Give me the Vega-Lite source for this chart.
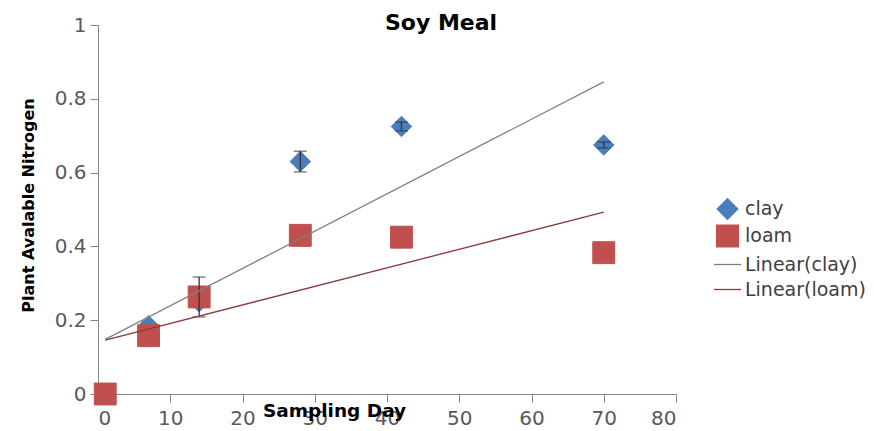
{
  "$schema": "https://vega.github.io/schema/vega-lite/v6.json",
  "width": 578,
  "height": 369,
  "autosize": "none",
  "padding": {"left": 98, "top": 25, "right": 198, "bottom": 37},
  "background": "white",
  "config": {
    "font": "DejaVu Sans",
    "view": {"stroke": null},
    "axis": {"grid": false},
    "legend": {
      "orient": "none",
      "legendX": 615,
      "legendY": 173,
      "labelFont": "DejaVu Sans",
      "labelFontSize": 19,
      "labelColor": "#404040",
      "labelOffset": 3,
      "rowPadding": 0,
      "symbolStrokeWidth": 1.3,
      "symbolFillColor": "#000000",
      "symbolStrokeColor": "#000000",
      "symbolOpacity": 1
    }
  },
  "title": {
    "text": "Soy Meal",
    "font": "DejaVu Sans",
    "fontSize": 22,
    "fontWeight": "bold",
    "color": "#000000",
    "anchor": "middle",
    "dx": 54,
    "offset": -20
  },
  "data": {
    "values": [
      {"day": 1, "value": 0, "err": 0, "soil": "clay", "fit": "Linear(clay)"},
      {"day": 7, "value": 0.185, "err": 0, "soil": "clay", "fit": "Linear(clay)"},
      {"day": 14, "value": 0.25, "err": 0, "soil": "clay", "fit": "Linear(clay)"},
      {"day": 28, "value": 0.63, "err": 0.028, "soil": "clay", "fit": "Linear(clay)"},
      {"day": 42, "value": 0.725, "err": 0.012, "soil": "clay", "fit": "Linear(clay)"},
      {"day": 70, "value": 0.675, "err": 0.008, "soil": "clay", "fit": "Linear(clay)"},
      {"day": 1, "value": 0, "err": 0, "soil": "loam", "fit": "Linear(loam)"},
      {"day": 7, "value": 0.158, "err": 0, "soil": "loam", "fit": "Linear(loam)"},
      {"day": 14, "value": 0.263, "err": 0.054, "soil": "loam", "fit": "Linear(loam)"},
      {"day": 28, "value": 0.43, "err": 0, "soil": "loam", "fit": "Linear(loam)"},
      {"day": 42, "value": 0.425, "err": 0, "soil": "loam", "fit": "Linear(loam)"},
      {"day": 70, "value": 0.383, "err": 0, "soil": "loam", "fit": "Linear(loam)"}
    ]
  },
  "encoding": {
    "x": {
      "field": "day",
      "type": "quantitative",
      "scale": {"domain": [0, 80], "nice": false, "zero": false},
      "axis": {
        "values": [0, 10, 20, 30, 40, 50, 60, 70, 80],
        "title": "Sampling Day",
        "titleFont": "DejaVu Sans",
        "titleFontSize": 18.5,
        "titleFontWeight": "bold",
        "titleColor": "#000000",
        "titleX": 236,
        "titleY": 16,
        "titleAlign": "center",
        "titleBaseline": "middle",
        "labelFontSize": 20,
        "labelColor": "#595959",
        "labelPadding": 6,
        "domainColor": "#868686",
        "tickColor": "#868686",
        "tickSize": 8
      }
    },
    "y": {
      "field": "value",
      "type": "quantitative",
      "scale": {"domain": [0, 1], "nice": false},
      "axis": {
        "values": [0, 0.2, 0.4, 0.6, 0.8, 1],
        "format": "~g",
        "title": "Plant Avalable Nitrogen",
        "titleFont": "DejaVu Sans",
        "titleFontSize": 16,
        "titleFontWeight": "bold",
        "titleColor": "#000000",
        "titleX": -70,
        "titleY": 180,
        "titleAngle": 270,
        "titleAlign": "center",
        "titleBaseline": "middle",
        "labelFontSize": 20,
        "labelColor": "#595959",
        "labelPadding": 4,
        "domainColor": "#868686",
        "tickColor": "#868686",
        "tickSize": 8
      }
    }
  },
  "layer": [
    {
      "mark": {"type": "point", "filled": true, "opacity": 1, "strokeWidth": 1},
      "encoding": {
        "fill": {
          "field": "soil",
          "type": "nominal",
          "scale": {
            "domain": ["clay", "loam", "Linear(clay)", "Linear(loam)"],
            "range": ["#4A7EBB", "#C0504D", "#808080", "#8B3A3A"]
          },
          "legend": {"title": null}
        },
        "stroke": {
          "field": "soil",
          "type": "nominal",
          "scale": {
            "domain": ["clay", "loam", "Linear(clay)", "Linear(loam)"],
            "range": ["#4A7EBB", "#C0504D", "#808080", "#8B3A3A"]
          },
          "legend": {"title": null}
        },
        "shape": {
          "field": "soil",
          "type": "nominal",
          "scale": {
            "domain": ["clay", "loam", "Linear(clay)", "Linear(loam)"],
            "range": ["diamond", "square", "stroke", "stroke"]
          },
          "legend": {"title": null}
        },
        "size": {
          "field": "soil",
          "type": "nominal",
          "scale": {
            "type": "ordinal",
            "domain": ["clay", "loam", "Linear(clay)", "Linear(loam)"],
            "range": [420, 480, 729, 729]
          },
          "legend": {"title": null}
        }
      }
    },
    {
      "transform": [{"filter": "datum.err > 0"}],
      "mark": {"type": "errorbar", "ticks": {"size": 13}, "color": "#333333", "thickness": 1.3},
      "encoding": {
        "yError": {"field": "err"}
      }
    },
    {
      "transform": [{"regression": "value", "on": "day", "groupby": ["fit"]}],
      "mark": {"type": "line", "strokeWidth": 1.3},
      "encoding": {
        "stroke": {"field": "fit", "type": "nominal"}
      }
    },
    {
      "data": {"values": [{}]},
      "mark": {
        "type": "text",
        "align": "left",
        "baseline": "alphabetic",
        "font": "DejaVu Sans",
        "fontSize": 19,
        "fontWeight": "normal",
        "lineHeight": 31,
        "color": "#333333"
      },
      "encoding": {
        "x": {"datum": 86.5},
        "y": {"datum": 0.943},
        "text": {"value": ["8% N", "C:N = 5.5"]}
      }
    }
  ]
}
